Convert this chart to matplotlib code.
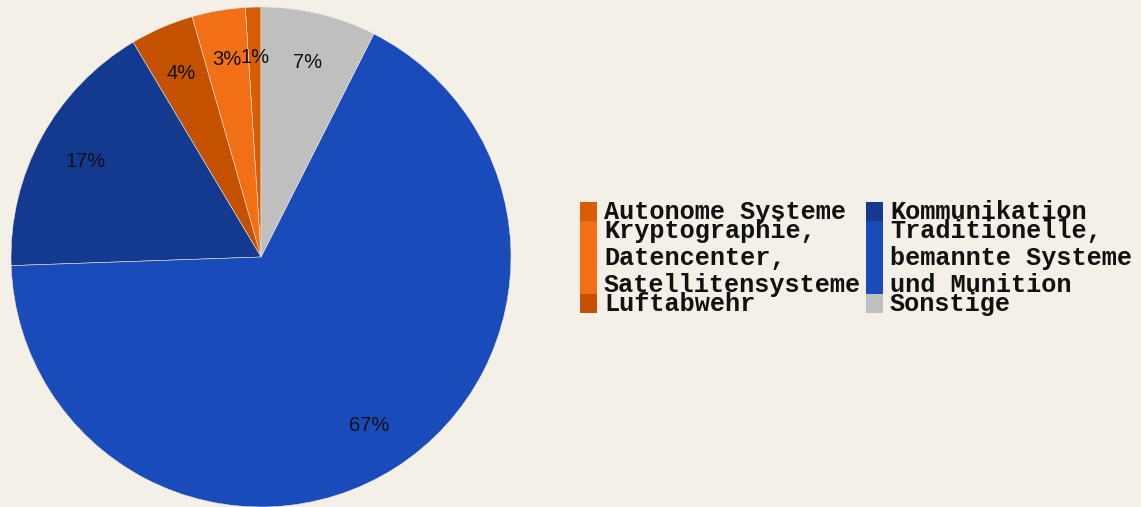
import matplotlib.pyplot as plt
from matplotlib.patches import Rectangle

labels = ["Autonome Systeme", "Kryptographie,\nDatencenter,\nSatellitensysteme", "Luftabwehr",
          "Kommunikation", "Traditionelle,\nbemannte Systeme\nund Munition", "Sonstige"]
values = [1.0, 3.45, 4.1, 17.0, 67.0, 7.45]
colors = ["#d95d04", "#f36f16", "#c45100", "#133a8f", "#1a4bba", "#bfbfbf"]

bg = "#f4f0e7"
W, H = 1141, 507
fig = plt.figure(figsize=(W / 100, H / 100), dpi=100, facecolor=bg)

# pie occupies the left part, cut at the bottom edge
ax = fig.add_axes([11 / W, 0, 500 / W, 500 / H])
ax.set_facecolor(bg)
wedges, texts, autotexts = ax.pie(
    values, colors=colors, startangle=90, counterclock=True,
    autopct="%1.0f%%", pctdistance=0.8, radius=1.0,
    wedgeprops=dict(edgecolor="#e8e4dc", linewidth=0.4),
    textprops=dict(family="Liberation Sans", fontsize=14.5, color="#111111"))
ax.set_xlim(-1, 1)
ax.set_ylim(-1, 1)
ax.set_aspect("equal")
ax.axis("off")

# legend: two columns of stacked colour blocks, height follows line count
def fy(px):
    return 1 - px / H

columns = [(580, 604, [0, 1, 2]), (866, 890, [3, 4, 5])]
for sx, tx, idx in columns:
    top = 202
    for i in idx:
        lines = labels[i].split("\n")
        h = 19 + 27 * (len(lines) - 1)
        fig.patches.append(Rectangle((sx / W, fy(top + h)), 17 / W, h / H,
                                     transform=fig.transFigure, facecolor=colors[i],
                                     edgecolor="none"))
        for k, line in enumerate(lines):
            fig.text(tx / W, fy(top + 17 + 27 * k), line, family="Liberation Mono",
                     weight="bold", fontsize=18.2, color="#111111", va="baseline", ha="left")
        top += h

fig.savefig("out.png", dpi=100, facecolor=bg)
